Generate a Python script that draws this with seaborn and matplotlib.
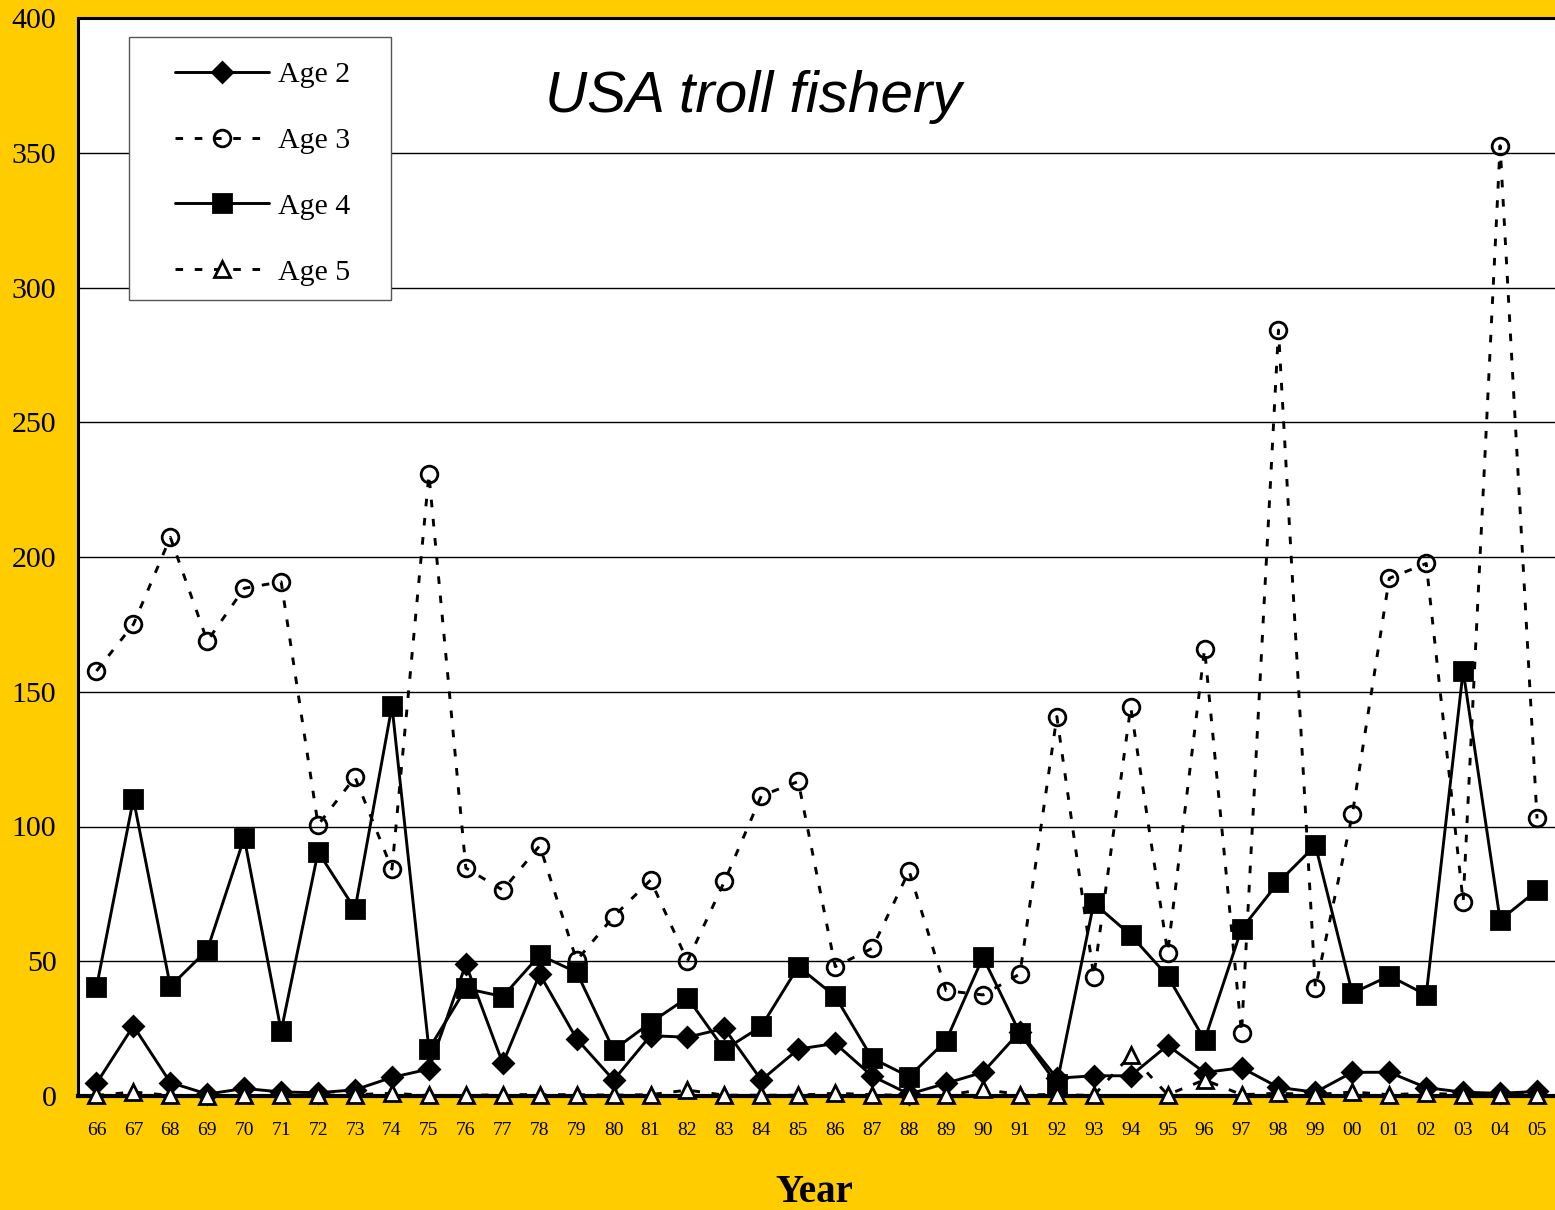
import matplotlib
matplotlib.use("Agg")
import matplotlib.pyplot as plt
from matplotlib.patches import Rectangle
import seaborn as sns
import pandas as pd

# Year labels (two-digit, 1966-2005)
years = ["66", "67", "68", "69", "70", "71", "72", "73", "74", "75",
         "76", "77", "78", "79", "80", "81", "82", "83", "84", "85",
         "86", "87", "88", "89", "90", "91", "92", "93", "94", "95",
         "96", "97", "98", "99", "00", "01", "02", "03", "04", "05"]

age2 = [4.7, 26.0, 5.0, 0.7, 2.8, 1.5, 1.2, 2.3, 6.9, 10.0,
        48.9, 12.1, 45.2, 21.2, 5.9, 22.4, 21.8, 25.1, 5.9, 17.4,
        19.5, 7.4, 0.7, 4.7, 8.8, 23.9, 6.6, 7.5, 7.5, 18.8,
        8.7, 10.5, 3.2, 1.4, 8.8, 8.8, 3.1, 1.4, 1.0, 1.7]

age3 = [157.7, 175.0, 207.3, 168.8, 188.4, 190.8, 100.6, 118.3, 84.2, 230.7,
        84.6, 76.4, 92.9, 50.3, 66.6, 80.1, 50.1, 79.6, 111.4, 116.7,
        48.0, 54.8, 83.5, 39.1, 37.5, 45.3, 140.8, 44.3, 144.4, 53.2,
        165.9, 23.3, 284.2, 40.0, 104.5, 192.1, 197.6, 72.0, 352.6, 103.0]

age4 = [40.3, 110.2, 40.7, 54.2, 95.8, 24.1, 90.6, 69.3, 144.7, 17.4,
        39.9, 36.9, 52.3, 45.9, 17.1, 27.2, 36.5, 17.2, 25.8, 48.0,
        37.0, 14.0, 7.2, 20.5, 51.5, 23.3, 4.5, 71.6, 59.7, 44.5,
        20.8, 62.0, 79.3, 93.0, 38.1, 44.6, 37.5, 157.8, 65.3, 76.3]

age5 = [0.2, 1.5, 0.2, 0.0, 0.2, 0.2, 0.2, 0.5, 1.0, 0.2,
        0.2, 0.5, 0.5, 0.5, 0.3, 0.5, 2.2, 0.3, 0.3, 0.3,
        1.0, 0.5, 0.2, 0.2, 2.5, 0.5, 0.5, 0.2, 15.2, 0.5,
        6.0, 0.5, 1.0, 0.5, 1.5, 0.5, 1.0, 0.5, 0.5, 0.5]

gold = "#FFCC00"
dash = (0, (2.6, 4.0))

df = pd.DataFrame({"pos": range(len(years)), "year": years,
                   "Age 2": age2, "Age 3": age3, "Age 4": age4, "Age 5": age5})

sns.set_style("white", rc={"text.color": "black", "xtick.color": "black",
                           "ytick.color": "black", "axes.labelcolor": "black"})
fig = plt.figure(figsize=(15.55, 12.10), dpi=100, facecolor=gold)
ax = fig.add_axes([78 / 1555, 114 / 1210, 1477.5 / 1555, 1078 / 1210])
ax.set_facecolor("white")

styles = {
    "Age 2": dict(marker="D", markersize=10, markerfacecolor="black", linestyle="-"),
    "Age 3": dict(marker="o", markersize=12, markerfacecolor="none", linestyle=dash),
    "Age 4": dict(marker="s", markersize=12.5, markerfacecolor="black", linestyle="-"),
    "Age 5": dict(marker="^", markersize=12, markerfacecolor="white", linestyle=dash),
}

for name, st in styles.items():
    sns.lineplot(data=df, x="pos", y=name, ax=ax, color="black", linewidth=2.1,
                 markeredgecolor="black", markeredgewidth=2.0, label=name,
                 sort=False, legend=False, clip_on=False, **st)

ax.set_xlim(-0.5, len(years) - 0.5)
ax.set_ylim(0, 400)
ax.set_yticks(range(0, 401, 50))
ax.yaxis.grid(True, color="black", linewidth=1.0)
ax.xaxis.grid(False)
ax.set_axisbelow(True)

ax.set_xticks(range(len(years)))
ax.set_xticklabels(years, family="Liberation Serif", fontsize=14)
ax.set_xticks([i - 0.5 for i in range(len(years) + 1)], minor=True)
ax.tick_params(axis="x", which="major", length=0, pad=19)
ax.tick_params(axis="x", which="minor", length=6, width=1.2, color="black", direction="out")
ax.tick_params(axis="y", length=9, width=1.2, color="black", direction="out", pad=6.5)
for lab in ax.get_yticklabels():
    lab.set_family("Liberation Serif")
    lab.set_fontsize(21.5)

for side, lw in {"left": 2.2, "bottom": 3.0, "top": 2.2, "right": 1.2}.items():
    ax.spines[side].set_visible(True)
    ax.spines[side].set_color("black" if side != "right" else "#555555")
    ax.spines[side].set_linewidth(lw)
    ax.spines[side].set_zorder(1.5)

ax.set_xlabel("")
ax.set_ylabel("")
fig.text(814 / 1555, 1 - 1193 / 1210, "Year", family="Liberation Serif",
         fontweight="bold", fontsize=28, ha="center", va="center")

ax.text(0.457, 0.927, "USA troll fishery", transform=ax.transAxes,
        family="Liberation Sans", style="italic", fontsize=42,
        ha="center", va="center")

# legend box drawn separately so the padding can match the original
box = Rectangle((0.0345, 0.738), 0.1775, 0.244, transform=ax.transAxes,
                facecolor="white", edgecolor="#555555", linewidth=1.0, zorder=4.5)
ax.add_patch(box)
leg = ax.legend(loc="upper left", bbox_to_anchor=(0.0657, 0.9597),
                prop={"family": "Liberation Serif", "size": 21.5},
                handlelength=3.15, handletextpad=0.3, labelspacing=1.3,
                borderpad=0, borderaxespad=0, frameon=False)
leg.set_zorder(5)

fig.savefig("out.png", dpi=100, facecolor=gold)
